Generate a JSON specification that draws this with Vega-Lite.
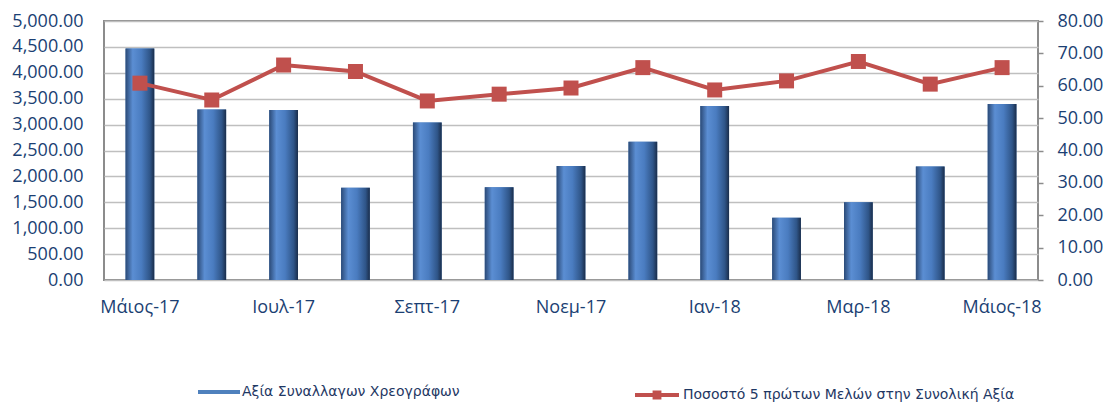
{
  "$schema": "https://vega.github.io/schema/vega-lite/v6.json",
  "width": 934,
  "height": 259,
  "autosize": {"type": "none"},
  "padding": {"left": 104, "top": 21, "right": 70, "bottom": 122},
  "background": "white",
  "config": {
    "view": {"stroke": "#8C8C8C", "strokeWidth": 2},
    "font": "Open Sans",
    "axis": {"labelFont": "Open Sans", "labelFontSize": 18, "labelColor": "#1B3F73", "title": null, "labelOverlap": false, "labelBound": false},
    "axisLeft": {"grid": true, "gridColor": "#BFBFBF", "gridWidth": 1.5, "gridOpacity": 1}
  },
  "data": {
    "values": [
      {"month": "Μάιος-17", "value": 4470, "pct": 60.8},
      {"month": "Ιουν-17", "value": 3290, "pct": 55.6},
      {"month": "Ιουλ-17", "value": 3280, "pct": 66.4},
      {"month": "Αυγ-17", "value": 1780, "pct": 64.4},
      {"month": "Σεπτ-17", "value": 3040, "pct": 55.3},
      {"month": "Οκτ-17", "value": 1790, "pct": 57.4},
      {"month": "Νοεμ-17", "value": 2200, "pct": 59.3},
      {"month": "Δεκ-17", "value": 2670, "pct": 65.6},
      {"month": "Ιαν-18", "value": 3360, "pct": 58.7},
      {"month": "Φεβ-18", "value": 1200, "pct": 61.5},
      {"month": "Μαρ-18", "value": 1500, "pct": 67.5},
      {"month": "Απρ-18", "value": 2190, "pct": 60.5},
      {"month": "Μάιος-18", "value": 3400, "pct": 65.6}
    ]
  },
  "encoding": {
    "x": {
      "field": "month", "type": "ordinal", "sort": null,
      "scale": {"paddingInner": 0.6, "paddingOuter": 0.3},
      "axis": {
        "values": ["Μάιος-17", "Ιουλ-17", "Σεπτ-17", "Νοεμ-17", "Ιαν-18", "Μαρ-18", "Μάιος-18"],
        "labelAngle": 0, "ticks": false, "domain": false, "grid": false, "labelPadding": 18
      }
    }
  },
  "layer": [
    {
      "encoding": {
        "y": {
          "field": "value", "type": "quantitative",
          "scale": {"domain": [0, 5000]},
          "axis": {
            "orient": "left", "values": [0, 500, 1000, 1500, 2000, 2500, 3000, 3500, 4000, 4500, 5000],
            "format": ",.2f", "grid": true, "gridColor": "#BFBFBF", "gridWidth": 1.5, "gridOpacity": 1,
            "domain": false, "ticks": false, "labelPadding": 21
          }
        }
      },
      "layer": [
        {
          "mark": {"type": "bar"},
          "encoding": {
            "fill": {
              "datum": "Αξία Συναλλαγων Χρεογράφων",
              "scale": {"range": ["#4F81BD"]},
              "legend": {
                "orient": "none", "legendX": 94, "legendY": 350, "title": null,
                "symbolType": "M-1,-0.1H1V0.1H-1Z", "symbolSize": 1764, "symbolStrokeWidth": 0,
                "labelFont": "DejaVu Sans", "labelFontSize": 14, "labelColor": "#1F3864", "labelOffset": 2, "labelLimit": 0
              }
            }
          }
        },
        {
          "mark": {
            "type": "bar",
            "color": {
              "gradient": "linear", "x1": 0, "y1": 0, "x2": 1, "y2": 0,
              "stops": [
                {"offset": 0, "color": "#2B4A77"},
                {"offset": 0.25, "color": "#5B8ED3"},
                {"offset": 0.55, "color": "#4A7CC0"},
                {"offset": 0.85, "color": "#2F5588"},
                {"offset": 1, "color": "#1A2D4A"}
              ]
            }
          }
        }
      ]
    },
    {
      "encoding": {
        "y": {
          "field": "pct", "type": "quantitative",
          "scale": {"domain": [0, 80]},
          "axis": {
            "orient": "right", "values": [0, 10, 20, 30, 40, 50, 60, 70, 80],
            "format": ".2f", "grid": false, "domain": false,
            "ticks": true, "tickSize": 5, "tickColor": "#8C8C8C", "tickWidth": 1.5,
            "labelPadding": 14
          }
        }
      },
      "layer": [
        {
          "mark": {"type": "line", "strokeWidth": 4},
          "encoding": {
            "stroke": {
              "datum": "Ποσοστό 5 πρώτων Μελών στην Συνολική Αξία",
              "scale": {"range": ["#C0504D"]},
              "legend": {
                "orient": "none", "legendX": 529, "legendY": 350, "title": null,
                "symbolType": "M-1,0H1M-0.11,-0.11H0.11V0.11H-0.11Z", "symbolSize": 1936, "symbolStrokeWidth": 4,
                "labelFont": "DejaVu Sans", "labelFontSize": 14, "labelColor": "#1F3864", "labelOffset": 2, "labelLimit": 0
              }
            }
          }
        },
        {
          "mark": {"type": "point", "shape": "square", "size": 225, "filled": true, "color": "#C0504D", "opacity": 1}
        }
      ]
    }
  ],
  "resolve": {"scale": {"y": "independent", "fill": "independent", "stroke": "independent"}}
}
